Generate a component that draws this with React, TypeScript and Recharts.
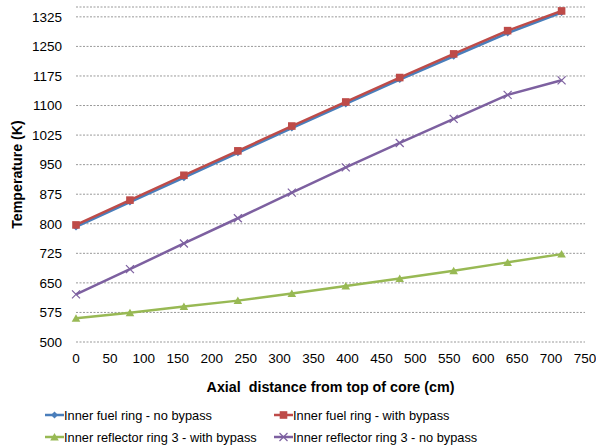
import React from 'react';
import { LineChart, Line, XAxis, YAxis, CartesianGrid, Legend } from 'recharts';

const xs = [0, 79.5, 159, 238.5, 318, 397.5, 477, 556.5, 636, 715.5];
const fuelNoBypass = [792, 855, 917, 980, 1043, 1104, 1166, 1225, 1284, 1336];
const fuelWithBypass = [797, 860, 923, 985, 1048, 1109, 1171, 1231, 1290, 1340];
const reflWithBypass = [560, 574, 590, 605, 623, 642, 661, 681, 702, 723];
const reflNoBypass = [621, 685, 750, 814, 879, 943, 1005, 1066, 1127, 1164];

const xTicks = [0, 50, 100, 150, 200, 250, 300, 350, 400, 450, 500, 550, 600, 650, 700, 750];
const yTicks = [500, 575, 650, 725, 800, 875, 950, 1025, 1100, 1175, 1250, 1325];

const seriesNames = [
  'Inner fuel ring - no bypass',
  'Inner fuel ring - with bypass',
  'Inner reflector ring 3 - with bypass',
  'Inner reflector ring 3 - no bypass',
];

const data = xs.map((x, i) => ({
  x,
  a: fuelNoBypass[i],
  b: fuelWithBypass[i],
  c: reflWithBypass[i],
  d: reflNoBypass[i],
}));

const BLUE = '#4A7EBB';
const RED = '#BE4B48';
const GREEN = '#98B954';
const PURPLE = '#7D60A0';
const FONT = '"Liberation Sans", Arial, sans-serif';

const Diamond = ({ cx, cy, color }: any) => (
  <path d={`M${cx},${cy - 3.5}L${cx + 3.5},${cy}L${cx},${cy + 3.5}L${cx - 3.5},${cy}Z`} fill={color} />
);
const Square = ({ cx, cy, color }: any) => (
  <rect x={cx - 3.8} y={cy - 3.8} width={7.6} height={7.6} fill={color} />
);
const Triangle = ({ cx, cy, color }: any) => (
  <path d={`M${cx},${cy - 4}L${cx + 4.3},${cy + 3.5}L${cx - 4.3},${cy + 3.5}Z`} fill={color} />
);
const Cross = ({ cx, cy, color }: any) => (
  <path d={`M${cx - 4},${cy - 4}L${cx + 4},${cy + 4}M${cx - 4},${cy + 4}L${cx + 4},${cy - 4}`} stroke={color} strokeWidth={1.2} fill="none" />
);

const mkDot = (Shape: any, color: string) => (p: any) => (
  <Shape key={`${color}-${p.index}`} cx={p.cx} cy={p.cy} color={color} />
);

const legendItems = [
  { name: seriesNames[0], color: BLUE, Shape: Diamond, left: 45, top: 13 },
  { name: seriesNames[1], color: RED, Shape: Square, left: 274, top: 13 },
  { name: seriesNames[2], color: GREEN, Shape: Triangle, left: 45, top: 35 },
  { name: seriesNames[3], color: PURPLE, Shape: Cross, left: 274, top: 35 },
];

const renderLegend = () => (
  <div style={{ position: 'relative', width: 596, height: 45, fontFamily: FONT, fontSize: 12.8, color: '#000' }}>
    {legendItems.map((it) => (
      <div key={it.name} style={{ position: 'absolute', left: it.left, top: it.top - 9, height: 18, display: 'flex', alignItems: 'center', whiteSpace: 'nowrap' }}>
        <svg width={19} height={18} style={{ display: 'block' }}>
          <line x1={0} y1={9} x2={19} y2={9} stroke={it.color} strokeWidth={2.5} />
          <it.Shape cx={9.5} cy={9} color={it.color} />
        </svg>
        <span style={{ marginLeft: 0 }}>{it.name}</span>
      </div>
    ))}
  </div>
);

const YLabel = ({ viewBox }: any) => {
  const cy = viewBox.y + viewBox.height / 2;
  return (
    <text x={17} y={cy} transform={`rotate(-90 17 ${cy})`} textAnchor="middle" dominantBaseline="central"
      style={{ fontFamily: FONT, fontSize: 14.2, fontWeight: 'bold', fill: '#000' }}>
      Temperature (K)
    </text>
  );
};

export default function App() {
  const tickStyle = { fontFamily: FONT, fontSize: 13.5, fill: '#000' };
  return (
    <div style={{ position: 'absolute', left: 0, top: 0, width: 596, height: 447, background: '#fff' }}>
      <LineChart width={596} height={447} data={data} margin={{ top: 7, right: 11, left: 0, bottom: 0 }}>
        <CartesianGrid vertical={false} stroke="#999999" strokeDasharray="2 1.5" />
        <XAxis type="number" dataKey="x" domain={[0, 750]} ticks={xTicks} interval={0}
          axisLine={false} tickLine={false} tick={tickStyle} tickMargin={5} height={60}
          label={{ value: 'Axial\u00a0 distance from top of core (cm)', position: 'insideBottom', offset: 10,
            style: { fontFamily: FONT, fontSize: 14.3, fontWeight: 'bold', fill: '#000' } }} />
        <YAxis type="number" domain={[500, 1350]} ticks={yTicks} interval={0} width={76}
          axisLine={false} tickLine={false} tick={tickStyle} tickMargin={8}
          label={<YLabel />} />
        <Legend verticalAlign="bottom" content={renderLegend} wrapperStyle={{ height: 45, left: 0, width: 596 }} />
        <Line name={seriesNames[0]} dataKey="a" stroke={BLUE} strokeWidth={2.5} dot={mkDot(Diamond, BLUE)} isAnimationActive={false} />
        <Line name={seriesNames[1]} dataKey="b" stroke={RED} strokeWidth={2.5} dot={mkDot(Square, RED)} isAnimationActive={false} />
        <Line name={seriesNames[2]} dataKey="c" stroke={GREEN} strokeWidth={2.5} dot={mkDot(Triangle, GREEN)} isAnimationActive={false} />
        <Line name={seriesNames[3]} dataKey="d" stroke={PURPLE} strokeWidth={2.5} dot={mkDot(Cross, PURPLE)} isAnimationActive={false} />
      </LineChart>
    </div>
  );
}
